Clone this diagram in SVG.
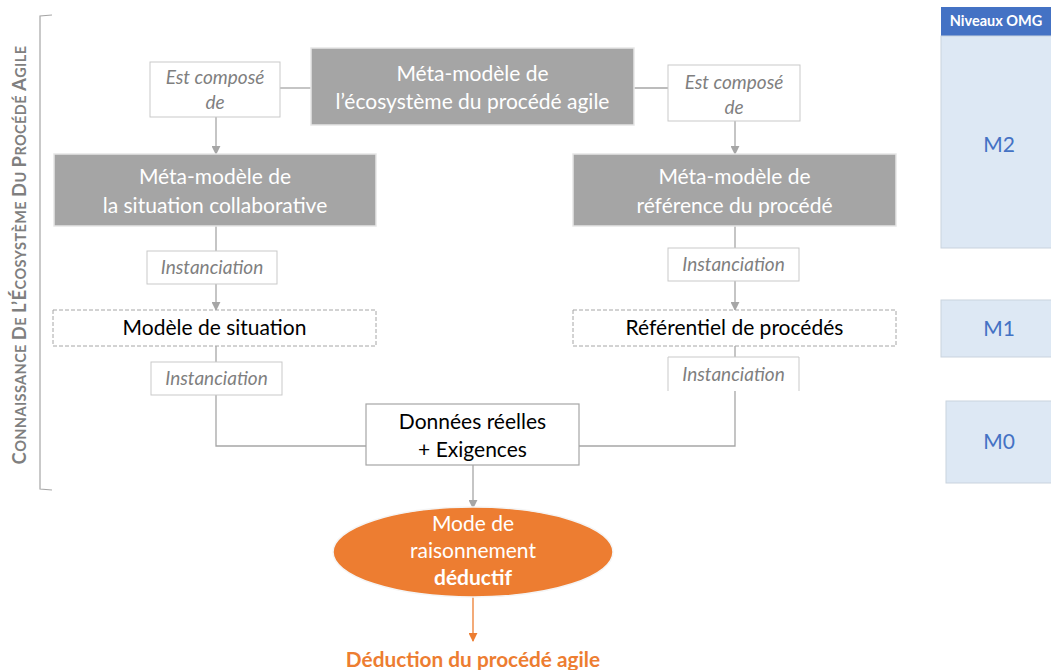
<svg xmlns="http://www.w3.org/2000/svg" width="1051" height="670" viewBox="0 0 1051 670">
<defs>
<style>
.meta{fill:#a5a5a5;stroke:#e6e6e6;stroke-width:1.5}
.metat{font-family:Lato,"Open Sans",sans-serif;font-size:21px;fill:#ffffff;text-anchor:middle}
.lbl{fill:#ffffff;stroke:#c9c9c9;stroke-width:1}
.lblt{font-family:Lato,"Open Sans",sans-serif;font-style:italic;font-size:19px;fill:#7f7f7f;text-anchor:middle}
.dash{fill:#ffffff;stroke:#a6a6a6;stroke-width:1;stroke-dasharray:4 2}
.blk{font-family:Lato,"Open Sans",sans-serif;font-size:21px;fill:#000000;text-anchor:middle}
.con{fill:none;stroke:#a6a6a6;stroke-width:1.3}
.lvl{fill:#dde8f4;stroke:#c9d3de;stroke-width:1}
.lvlt{font-family:Lato,"Open Sans",sans-serif;font-size:21px;fill:#4472c4;text-anchor:middle}
</style>
<marker id="ag" viewBox="0 0 10 10" refX="9" refY="5" markerWidth="9" markerHeight="9" markerUnits="userSpaceOnUse" orient="auto"><path d="M0,0 L10,5 L0,10 z" fill="#a6a6a6"/></marker>
<marker id="ao" viewBox="0 0 10 10" refX="9" refY="5" markerWidth="9" markerHeight="9" markerUnits="userSpaceOnUse" orient="auto"><path d="M0,0 L10,5 L0,10 z" fill="#ed7d31"/></marker>
</defs>

<g id="bracket">
<path d="M52,15 L40,16 L40,489 L52,490" fill="none" stroke="#a6a6a6" stroke-width="1.2"/>
<text transform="translate(26,255) rotate(-90)" text-anchor="middle" font-family="Lato,'Open Sans',sans-serif" font-weight="bold" font-size="14.5px" fill="#7f7f7f" letter-spacing="0.4"><tspan font-size="18.5px">C</tspan>ONNAISSANCE <tspan font-size="18.5px">D</tspan>E <tspan font-size="18.5px">L’É</tspan>COSYSTÈME <tspan font-size="18.5px">D</tspan>U <tspan font-size="18.5px">P</tspan>ROCÉDÉ <tspan font-size="18.5px">A</tspan>GILE</text>
</g>

<g id="connectors">
<line class="con" x1="280" y1="88" x2="311" y2="88"/>
<line class="con" x1="634" y1="88" x2="668" y2="88"/>
<line class="con" x1="216" y1="117" x2="216" y2="154" marker-end="url(#ag)"/>
<line class="con" x1="735" y1="121" x2="735" y2="154" marker-end="url(#ag)"/>
<line class="con" x1="216" y1="226" x2="216" y2="251"/>
<line class="con" x1="216" y1="284" x2="216" y2="310" marker-end="url(#ag)"/>
<line class="con" x1="735" y1="226" x2="735" y2="248"/>
<line class="con" x1="735" y1="281" x2="735" y2="310" marker-end="url(#ag)"/>
<line class="con" x1="216" y1="346" x2="216" y2="362"/>
<line class="con" x1="735" y1="346" x2="735" y2="357"/>
<polyline class="con" points="216,395 216,446 366,446"/>
<polyline class="con" points="735,391 735,446 579,446"/>
<line class="con" x1="473" y1="465" x2="473" y2="508" marker-end="url(#ag)"/>
<line x1="473" y1="597" x2="473" y2="641" stroke="#ed7d31" stroke-width="1.3" marker-end="url(#ao)"/>
</g>

<g id="meta-ecosysteme">
<rect class="meta" x="311" y="48" width="323" height="77"/>
<text class="metat" x="472.5" y="81">Méta-modèle de</text>
<text class="metat" x="472.5" y="109">l’écosystème du procédé agile</text>
</g>

<g id="lbl-compose-gauche">
<rect class="lbl" x="150" y="62" width="130" height="55"/>
<text class="lblt" x="215" y="84">Est composé</text>
<text class="lblt" x="215" y="109">de</text>
</g>

<g id="lbl-compose-droite">
<rect class="lbl" x="668" y="65" width="132" height="56"/>
<text class="lblt" x="734" y="89">Est composé</text>
<text class="lblt" x="734" y="114">de</text>
</g>

<g id="meta-situation">
<rect class="meta" x="54" y="154" width="322" height="72"/>
<text class="metat" x="215" y="184">Méta-modèle de</text>
<text class="metat" x="215" y="213">la situation collaborative</text>
</g>

<g id="meta-reference">
<rect class="meta" x="573" y="154" width="323" height="72"/>
<text class="metat" x="734.5" y="184">Méta-modèle de</text>
<text class="metat" x="734.5" y="213">référence du procédé</text>
</g>

<g id="lbl-inst-1">
<rect class="lbl" x="147" y="251" width="130" height="33"/>
<text class="lblt" x="212" y="274">Instanciation</text>
</g>

<g id="lbl-inst-2">
<rect class="lbl" x="668" y="248" width="131" height="33"/>
<text class="lblt" x="733.5" y="271">Instanciation</text>
</g>

<g id="modele-situation">
<rect class="dash" x="53" y="310" width="323" height="36"/>
<text class="blk" x="214.5" y="335">Modèle de situation</text>
</g>

<g id="referentiel">
<rect class="dash" x="573" y="310" width="323" height="36"/>
<text class="blk" x="734.5" y="335">Référentiel de procédés</text>
</g>

<g id="lbl-inst-3">
<rect class="lbl" x="151" y="362" width="131" height="33"/>
<text class="lblt" x="216.5" y="385">Instanciation</text>
</g>

<g id="lbl-inst-4">
<path d="M668,391 L668,357 L799,357 L799,391" fill="#ffffff" stroke="#c9c9c9" stroke-width="1"/>
<text class="lblt" x="733.5" y="381">Instanciation</text>
</g>

<g id="donnees">
<rect x="366" y="404" width="213" height="61" fill="#ffffff" stroke="#a6a6a6" stroke-width="1.2"/>
<text class="blk" x="472.5" y="429">Données réelles</text>
<text class="blk" x="472.5" y="457">+ Exigences</text>
</g>

<g id="raisonnement">
<ellipse cx="473" cy="552" rx="140" ry="45" fill="#ed7d31" stroke="#f5f5f5" stroke-width="1.5"/>
<text class="metat" x="473" y="531">Mode de</text>
<text class="metat" x="473" y="558">raisonnement</text>
<text class="metat" x="473" y="585" font-weight="bold">déductif</text>
</g>

<g id="deduction">
<text x="473" y="667" text-anchor="middle" font-family="Lato,'Open Sans',sans-serif" font-weight="bold" font-size="20.8px" fill="#ed7d31">Déduction du procédé agile</text>
</g>

<g id="niveaux-omg">
<rect x="941" y="7" width="110" height="29" fill="#4472c4"/>
<text x="996" y="26" text-anchor="middle" font-family="Lato,'Open Sans',sans-serif" font-weight="bold" font-size="14.5px" fill="#ffffff">Niveaux OMG</text>
</g>
<g id="m2">
<rect class="lvl" x="941" y="36" width="111" height="212"/>
<text class="lvlt" x="999" y="152">M2</text>
</g>
<g id="m1">
<rect class="lvl" x="941" y="300" width="111" height="57"/>
<text class="lvlt" x="999" y="336">M1</text>
</g>
<g id="m0">
<rect class="lvl" x="946" y="401" width="106" height="82"/>
<text class="lvlt" x="999" y="449">M0</text>
</g>
</svg>
